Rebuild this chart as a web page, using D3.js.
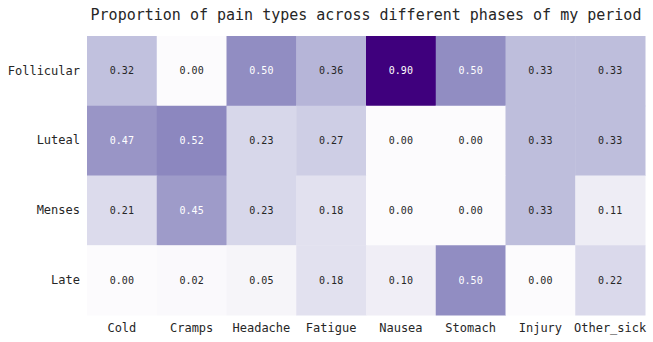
<!DOCTYPE html>
<html><head><meta charset="utf-8">
<script src="https://cdn.jsdelivr.net/npm/d3@7"></script>
<style>body{margin:0;background:#fff}</style>
</head><body>
<svg id="c" width="653" height="342"></svg>
<script>
const phases = ["Follicular","Luteal","Menses","Late"];
const painTypes = ["Cold","Cramps","Headache","Fatigue","Nausea","Stomach","Injury","Other_sick"];
const follicular = [0.32,0.00,0.50,0.36,0.90,0.50,0.33,0.33];
const luteal     = [0.47,0.52,0.23,0.27,0.00,0.00,0.33,0.33];
const menses     = [0.21,0.45,0.23,0.18,0.00,0.00,0.33,0.11];
const late       = [0.00,0.02,0.05,0.18,0.10,0.50,0.00,0.22];
const values = [follicular, luteal, menses, late];
const title = "Proportion of pain types across different phases of my period";

const svg = d3.select("#c");
const font = "'DejaVu Sans Mono', monospace";
const x = d3.scaleBand().domain(painTypes).range([87,645]);
const y = d3.scaleBand().domain(phases).range([36,315]);
const allV = values.flat();
const vmin = d3.min(allV), vmax = d3.max(allV);
const color = d3.scaleSequential(d3.interpolatePurples).domain([vmin, vmax]);

const cells = [];
phases.forEach((p,i)=>painTypes.forEach((t,j)=>cells.push({p,t,v:values[i][j]})));

svg.append("g").selectAll("rect").data(cells).join("rect")
  .attr("x",d=>x(d.t)).attr("y",d=>y(d.p))
  .attr("width",x.bandwidth()+0.5).attr("height",y.bandwidth()+0.5)
  .attr("fill",d=>color(d.v));

function lum(c){
  const r=d3.rgb(c);
  const f=v=>{v/=255;return v<=0.03928?v/12.92:Math.pow((v+0.055)/1.055,2.4);};
  return 0.2126*f(r.r)+0.7152*f(r.g)+0.0722*f(r.b);
}
svg.append("g").selectAll("text").data(cells).join("text")
  .attr("x",d=>x(d.t)+x.bandwidth()/2).attr("y",d=>y(d.p)+y.bandwidth()/2)
  .attr("text-anchor","middle").attr("dominant-baseline","central")
  .style("font-family",font).style("font-size","10px")
  .attr("fill",d=>lum(color(d.v))>0.408?"#262626":"#ffffff")
  .text(d=>d.v.toFixed(2));

const xAxis = svg.append("g").attr("transform","translate(0,315)")
  .call(d3.axisBottom(x).tickSize(0).tickPadding(8));
const yAxis = svg.append("g").attr("transform","translate(87,0)")
  .call(d3.axisLeft(y).tickSize(0).tickPadding(7));
[xAxis,yAxis].forEach(a=>{
  a.select(".domain").remove();
  a.selectAll("text").style("font-family",font).style("font-size","12px").attr("fill","#262626");
});

svg.append("text").attr("x",366).attr("y",20).attr("text-anchor","middle")
  .style("font-family",font).style("font-size","15px").attr("fill","#262626")
  .text(title);
</script>
</body></html>
